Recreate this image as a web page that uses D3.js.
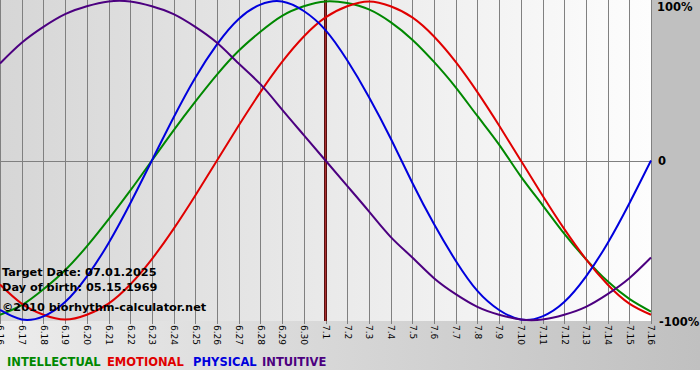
<!DOCTYPE html>
<html>
<head>
<meta charset="utf-8">
<script src="https://cdn.jsdelivr.net/npm/d3@7"></script>
<style>
  html, body { margin: 0; padding: 0; background: #ffffff; }
  svg { display: block; }
  text { font-family: "DejaVu Sans", Verdana, sans-serif; }
</style>
</head>
<body>
<svg id="chart" width="700" height="380"></svg>
<script>
// ---- data ----
const dateLabels = ["6.16","6.17","6.18","6.19","6.20","6.21","6.22","6.23","6.24","6.25","6.26","6.27","6.28","6.29","6.30",
  "7.1","7.2","7.3","7.4","7.5","7.6","7.7","7.8","7.9","7.10","7.11","7.12","7.13","7.14","7.15","7.16"];
const intellectual = [-0.97,-0.91,-0.81,-0.69,-0.54,-0.37,-0.19,0.00,0.19,0.37,0.54,0.69,0.81,0.91,0.97,
  1.00,0.99,0.95,0.87,0.76,0.62,0.46,0.28,0.10,-0.10,-0.28,-0.46,-0.62,-0.76,-0.87,-0.95];
const emotional = [-0.78,-0.90,-0.97,-1.00,-0.97,-0.90,-0.78,-0.62,-0.43,-0.22,0.00,0.22,0.43,0.62,0.78,
  0.90,0.97,1.00,0.97,0.90,0.78,0.62,0.43,0.22,0.00,-0.22,-0.43,-0.62,-0.78,-0.90,-0.97];
const physical = [-0.94,-1.00,-0.98,-0.89,-0.73,-0.52,-0.27,0.00,0.27,0.52,0.73,0.89,0.98,1.00,0.94,
  0.82,0.63,0.40,0.14,-0.14,-0.40,-0.63,-0.82,-0.94,-1.00,-0.98,-0.89,-0.73,-0.52,-0.27,0.00];
const intuitive = [0.61,0.74,0.84,0.92,0.97,1.00,1.00,0.97,0.92,0.84,0.74,0.61,0.48,0.32,0.16,
  0.00,-0.16,-0.32,-0.48,-0.61,-0.74,-0.84,-0.92,-0.97,-1.00,-1.00,-0.97,-0.92,-0.84,-0.74,-0.61];
const seriesNames = ["INTELLECTUAL","EMOTIONAL","PHYSICAL","INTUITIVE"];
const seriesColors = ["#008800","#e00000","#0000dd","#4c0080"];
const yTickValues = [1, 0, -1];
const yTickLabels = ["100%", "0", "-100%"];
const targetIndex = 15;
const infoLines = ["Target Date: 07.01.2025", "Day of birth: 05.15.1969"];
const copyright = "\u00A92010 biorhythm-calculator.net";

// ---- layout ----
const svg = d3.select("#chart");
const W = 700, H = 380;
const plot = {left: 0, right: 651, top: 0, bottom: 321};

const x = d3.scaleLinear().domain([0, dateLabels.length - 1]).range([plot.left, plot.right]);
const y = d3.scaleLinear().domain([-1, 1]).range([319.5, 1.5]);

const defs = svg.append("defs");
const g1 = defs.append("linearGradient").attr("id", "plotBg").attr("x1", "0").attr("x2", "1").attr("y1", "0").attr("y2", "0");
g1.append("stop").attr("offset", "0").attr("stop-color", "#d6d6d6");
g1.append("stop").attr("offset", "1").attr("stop-color", "#fdfdfd");
const g2 = defs.append("linearGradient").attr("id", "bottomBg").attr("x1", "0").attr("x2", "1").attr("y1", "0").attr("y2", "0");
g2.append("stop").attr("offset", "0").attr("stop-color", "#ececec");
g2.append("stop").attr("offset", "1").attr("stop-color", "#c0c0c0");

// panels
svg.append("rect").attr("x", 0).attr("y", 0).attr("width", W).attr("height", 370).attr("fill", "#c0c0c0");
svg.append("rect").attr("x", 0).attr("y", plot.bottom).attr("width", W).attr("height", 370 - plot.bottom).attr("fill", "url(#bottomBg)");
svg.append("rect").attr("x", plot.left).attr("y", plot.top).attr("width", plot.right - plot.left).attr("height", plot.bottom - plot.top).attr("fill", "url(#plotBg)");

// vertical grid
svg.append("g").selectAll("line").data(d3.range(dateLabels.length)).join("line")
  .attr("x1", d => Math.round(x(d)) + 0.5).attr("x2", d => Math.round(x(d)) + 0.5)
  .attr("y1", plot.top).attr("y2", plot.bottom + 3)
  .attr("stroke", "#808080").attr("stroke-width", 1);
// zero line
svg.append("line").attr("x1", plot.left).attr("x2", plot.right).attr("y1", Math.round(y(0)) + 0.5).attr("y2", Math.round(y(0)) + 0.5)
  .attr("stroke", "#808080").attr("stroke-width", 1);

// x axis labels
const xAxis = d3.axisBottom(x).tickValues(d3.range(dateLabels.length)).tickFormat(i => dateLabels[i]).tickSize(0);
const ax = svg.append("g").attr("transform", `translate(0,${plot.bottom})`).call(xAxis);
ax.select(".domain").remove();
ax.selectAll("text")
  .attr("transform", "rotate(90)")
  .attr("x", 4).attr("y", 0).attr("dy", "0.35em")
  .style("text-anchor", "start")
  .attr("fill", "#000").style("font-size", "9px").style("font-family", "DejaVu Sans, Verdana, sans-serif");

// target line
svg.append("line").attr("x1", x(targetIndex)).attr("x2", x(targetIndex)).attr("y1", plot.top).attr("y2", plot.bottom)
  .attr("stroke", "#5a1010").attr("stroke-width", 3);
svg.append("line").attr("x1", x(targetIndex)).attr("x2", x(targetIndex)).attr("y1", plot.top).attr("y2", plot.bottom)
  .attr("stroke", "#a83030").attr("stroke-width", 1);

// curves
const allSeries = [intellectual, emotional, physical, intuitive];
const line = d3.line().x((d, i) => x(i)).y(d => y(d)).curve(d3.curveNatural);
svg.append("g").selectAll("path").data(allSeries).join("path")
  .attr("d", d => line(d))
  .attr("fill", "none")
  .attr("stroke", (d, i) => seriesColors[i])
  .attr("stroke-width", 2);

// y labels
svg.append("g").selectAll("text").data(yTickValues).join("text")
  .attr("x", (d, i) => i === 1 ? 658 : (i === 0 ? 657 : 659))
  .attr("y", d => d === 1 ? 11 : (d === 0 ? 165 : 326))
  .text((d, i) => yTickLabels[i])
  .attr("font-size", "11.5px").attr("font-weight", "bold").attr("fill", "#000");

// info text
svg.append("g").selectAll("text").data(infoLines).join("text")
  .attr("x", 2).attr("y", (d, i) => 276 + i * 15)
  .text(d => d)
  .attr("font-size", "11.3px").attr("font-weight", "bold").attr("fill", "#000");
svg.append("text").attr("x", 2).attr("y", 311).text(copyright)
  .attr("font-size", "11.3px").attr("font-weight", "bold").attr("fill", "#000");

// legend
const legendX = [7, 107, 193, 262];
svg.append("g").selectAll("text").data(seriesNames).join("text")
  .attr("x", (d, i) => legendX[i]).attr("y", 366)
  .text(d => d)
  .attr("fill", (d, i) => seriesColors[i])
  .attr("font-size", "11.5px").attr("font-weight", "bold");
</script>
</body>
</html>
